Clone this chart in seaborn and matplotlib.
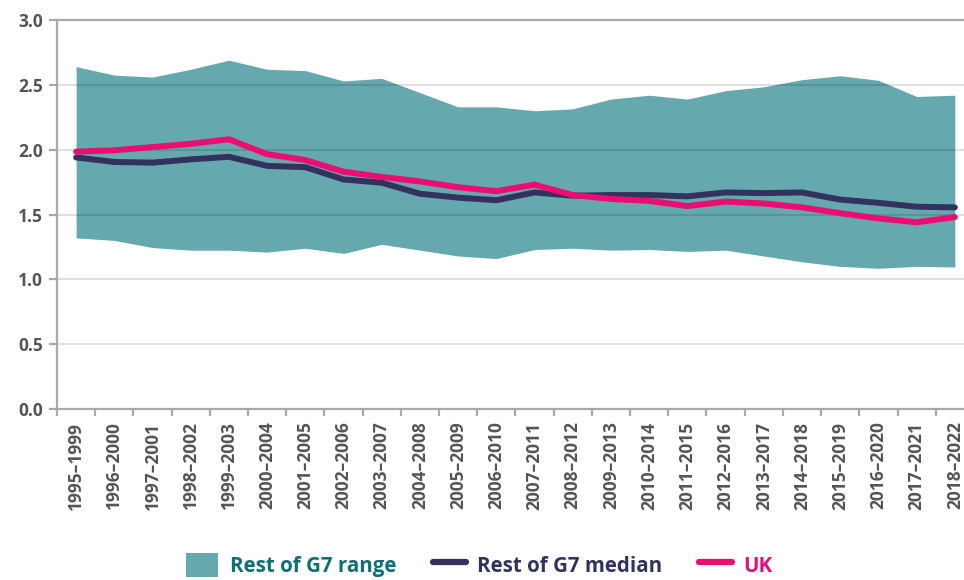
import numpy as np
import pandas as pd
import seaborn as sns
import matplotlib.pyplot as plt
from matplotlib.patches import Patch
from matplotlib.lines import Line2D

periods = [f"{y}\u2013{y + 4}" for y in range(1995, 2019)]

g7_high = [2.64, 2.575, 2.56, 2.62, 2.69, 2.62, 2.61, 2.53, 2.55, 2.44, 2.33, 2.33,
           2.30, 2.315, 2.39, 2.42, 2.39, 2.455, 2.485, 2.54, 2.57, 2.535, 2.41, 2.42]
g7_low = [1.32, 1.30, 1.245, 1.225, 1.225, 1.21, 1.24, 1.20, 1.27, 1.225, 1.18, 1.16,
          1.23, 1.24, 1.225, 1.23, 1.215, 1.225, 1.18, 1.135, 1.10, 1.085, 1.10, 1.095]
g7_median = [1.94, 1.905, 1.90, 1.925, 1.945, 1.875, 1.865, 1.77, 1.745, 1.66, 1.63, 1.61,
             1.67, 1.645, 1.65, 1.65, 1.64, 1.67, 1.665, 1.67, 1.615, 1.59, 1.56, 1.555]
uk = [1.985, 1.995, 2.02, 2.045, 2.08, 1.965, 1.92, 1.83, 1.79, 1.755, 1.71, 1.68,
      1.73, 1.65, 1.62, 1.605, 1.565, 1.60, 1.585, 1.555, 1.51, 1.47, 1.44, 1.48]

teal = '#65a8ad'
teal_text = '#0d6f77'
navy = '#33325f'
pink = '#eb0d72'
grey_txt = '#555555'
spine_grey = '#aaaaaa'

sns.set_style("white")
plt.rcParams['font.family'] = ['Open Sans', 'DejaVu Sans']

df = pd.DataFrame({'x': np.arange(len(periods)), 'high': g7_high, 'low': g7_low,
                   'median': g7_median, 'uk': uk})

fig = plt.figure(figsize=(9.64, 5.80), dpi=100)
ax = fig.add_axes([57 / 964, (580 - 409) / 580, (964 - 57) / 964, (409 - 20) / 580])

ax.fill_between(df['x'], df['low'], df['high'], color=teal, lw=0, zorder=1)
for yv in [0.5, 1.0, 1.5, 2.0, 2.5]:
    ax.axhline(yv, color='black', alpha=0.12, lw=1.5, zorder=1.5)
sns.lineplot(data=df, x='x', y='median', color=navy, lw=4.3, ax=ax, zorder=3,
             solid_capstyle='round', solid_joinstyle='round')
sns.lineplot(data=df, x='x', y='uk', color=pink, lw=4.3, ax=ax, zorder=4,
             solid_capstyle='round', solid_joinstyle='round')

ax.set_xlim(-0.5, 23.24)
ax.set_ylim(0, 3.0)
ax.set_xlabel('')
ax.set_ylabel('')

for side in ['left', 'top', 'bottom']:
    ax.spines[side].set_color(spine_grey)
    ax.spines[side].set_linewidth(1.6)
ax.spines['right'].set_visible(False)

ax.set_yticks([0, 0.5, 1.0, 1.5, 2.0, 2.5, 3.0])
ax.set_yticklabels([f"{v:.1f}" for v in [0, 0.5, 1.0, 1.5, 2.0, 2.5, 3.0]],
                   fontsize=12.5, fontweight='bold', color=grey_txt)
ax.tick_params(axis='y', length=6, width=1.6, color=spine_grey, pad=4, left=True)

ax.set_xticks(df['x'])
ax.set_xticklabels(periods, rotation=90, fontsize=12.5, fontweight='bold', color=grey_txt)
ax.tick_params(axis='x', which='major', length=0, pad=9)
ax.set_xticks(np.arange(-0.5, 23.5, 1), minor=True)
ax.tick_params(axis='x', which='minor', length=5, width=1.6, color=spine_grey, bottom=True)

handles = [Patch(facecolor=teal, edgecolor='none'),
           Line2D([0], [0], color=navy, lw=4.5, solid_capstyle='round'),
           Line2D([0], [0], color=pink, lw=4.5, solid_capstyle='round')]
labels = ['Rest of G7 range', 'Rest of G7 median', 'UK']
leg = fig.legend(handles, labels, loc='center', bbox_to_anchor=(0.497, 0.026), ncol=3,
                 frameon=False, handlelength=1.6, handleheight=1.4, handletextpad=0.55,
                 columnspacing=1.8, prop={'family': 'Open Sans', 'weight': 'bold', 'size': 14.8})
for txt, c in zip(leg.get_texts(), [teal_text, navy, pink]):
    txt.set_color(c)

fig.savefig('out.png', dpi=100)
